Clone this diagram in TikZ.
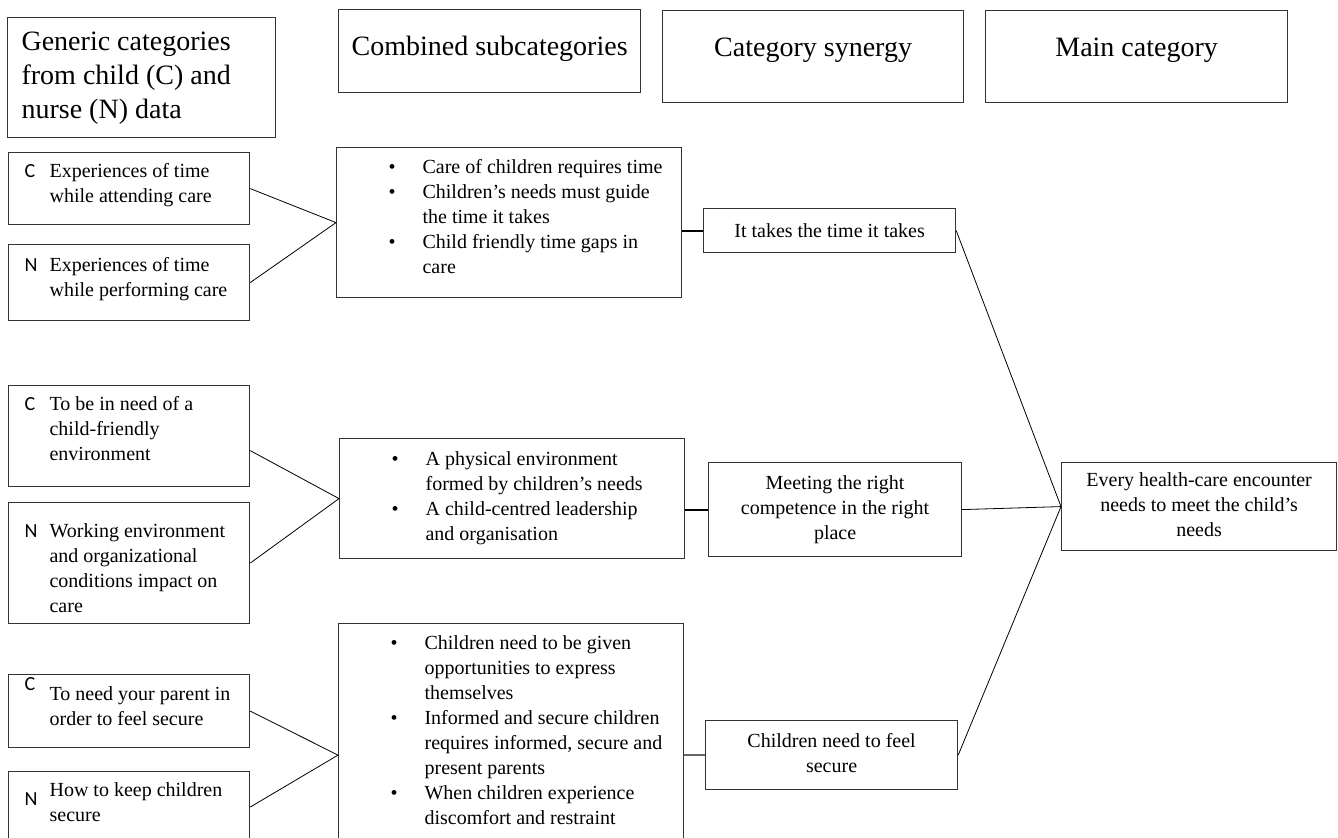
\documentclass[tikz,border=0pt]{standalone}
\usepackage{fontspec}
\setmainfont{Liberation Serif}
\newfontfamily\tagfont{Carlito}

\newcommand\tagged[3][0pt]{\begin{tabular}[t]{@{\hspace{8pt}}p{12.5pt}@{}p{100pt}@{}}\raisebox{#1}[0pt][0pt]{\tagfont #2} & #3\end{tabular}}
\newcommand\blist[1]{\begin{tabular}[t]{@{\hspace{26pt}}p{17pt}@{}p{129.5pt}@{}}#1\end{tabular}}
\newcommand\cellines[1]{\begin{tabular}{@{}c@{}}#1\end{tabular}}

\tikzset{
  box/.style={draw=black!80, line width=0.6pt, inner sep=0pt, anchor=north west, font=\fontsize{10}{12.5}\selectfont},
  tagbox/.style={box, minimum width=120.5pt},
  subbox/.style={box, minimum width=172.5pt},
  synbox/.style={box, minimum width=126pt},
  head/.style={draw=black!80, line width=0.6pt, inner sep=0pt, anchor=north west, font=\fontsize{14}{17}\selectfont},
  conn/.style={line width=0.4pt},
  link/.style={line width=1pt}
}

\begin{document}
\begin{tikzpicture}[x=0.5pt,y=-0.5pt]
  \fill[white] (0,0) rectangle (1338,838);
  \useasboundingbox (0,0) rectangle (1338,838);
  \clip (0,0) rectangle (1338,838);

  \node[head, text height=16.5pt, text depth=43.5pt] (hgen) at (7,17) {\begin{tabular}[t]{@{\hspace{7pt}}p{127pt}@{}}Generic categories\\from child (C) and\\nurse (N) data\end{tabular}};
  \node[head, minimum width=151pt, text height=23pt, text depth=18.5pt] (hsub) at (338,9) {Combined subcategories};
  \node[head, minimum width=150.5pt, text height=23pt, text depth=23pt] (hsyn) at (662,10) {Category synergy};
  \node[head, minimum width=151pt, text height=23pt, text depth=23pt] (hmain) at (985,10) {Main category};

  \node[tagbox, text height=12.25pt, text depth=23.75pt] (c1) at (8,152) {\tagged{C}{Experiences of time\\ & while attending care}};
  \node[tagbox, text height=13.5pt, text depth=24.5pt] (n1) at (8,244) {\tagged{N}{Experiences of time\\ & while performing care}};
  \node[subbox, text height=13pt, text depth=62pt] (s1) at (336,147) {\blist{\textbullet & Care of children requires time\\
    \textbullet & Children’s needs must guide\\ & the time it takes\\
    \textbullet & Child friendly time gaps in\\ & care}};
  \node[synbox, minimum height=22pt] (y1) at (703,208) {It takes the time it takes};

  \node[tagbox, text height=12.25pt, text depth=38.25pt] (c2) at (8,385) {\tagged{C}{To be in need of a\\ & child-friendly\\ & environment}};
  \node[tagbox, text height=17.25pt, text depth=43.25pt] (n2) at (8,502) {\tagged{N}{Working environment\\ & and organizational\\ & conditions impact on\\ & care}};
  \node[subbox, minimum width=172pt, text height=13.25pt, text depth=46.75pt] (s2) at (339,438) {\blist{\textbullet & A physical environment\\ & formed by children’s needs\\
    \textbullet & A child-centred leadership\\ & and organisation}};
  \node[synbox, minimum width=126.5pt, minimum height=47pt] (y2) at (708,462) {\cellines{Meeting the right\\competence in the right\\place}};
  \node[box, minimum width=137.5pt, minimum height=44pt] (main) at (1061,462) {\cellines{Every health-care encounter\\needs to meet the child’s\\needs}};

  \node[tagbox, text height=12.75pt, text depth=23.75pt] (c3) at (8,674) {\tagged[5pt]{C}{To need your parent in\\ & order to feel secure}};
  \node[tagbox, text height=12.25pt, text depth=23.25pt] (n3) at (8,771) {\tagged[-4.5pt]{N}{How to keep children\\ & secure}};
  \node[subbox, text height=13pt, text depth=95.5pt] (s3) at (338,623) {\blist{\textbullet & Children need to be given\\ & opportunities to express\\ & themselves\\
    \textbullet & Informed and secure children\\ & requires informed, secure and\\ & present parents\\
    \textbullet & When children experience\\ & discomfort and restraint}};
  \node[synbox, minimum height=34.5pt] (y3) at (705,720) {\cellines{Children need to feel\\secure}};

  \draw[conn] (c1.east) -- (s1.west) -- (n1.east);
  \draw[conn] ([yshift=-7.25pt]c2.east) -- (s2.west) -- (n2.east);
  \draw[conn] (c3.east) -- (s3.west |- y3.west) -- (n3.east);
  \draw[link] (s1.east |- y1.west) -- (y1.west);
  \draw[link] (s2.east |- y2.west) -- (y2.west);
  \draw[link, black!60] (s3.east |- y3.west) -- (y3.west);
  \draw[conn] (y1.east) -- (main.west) -- (y3.east);
  \draw[conn] (y2.east) -- (main.west);
\end{tikzpicture}
\end{document}
